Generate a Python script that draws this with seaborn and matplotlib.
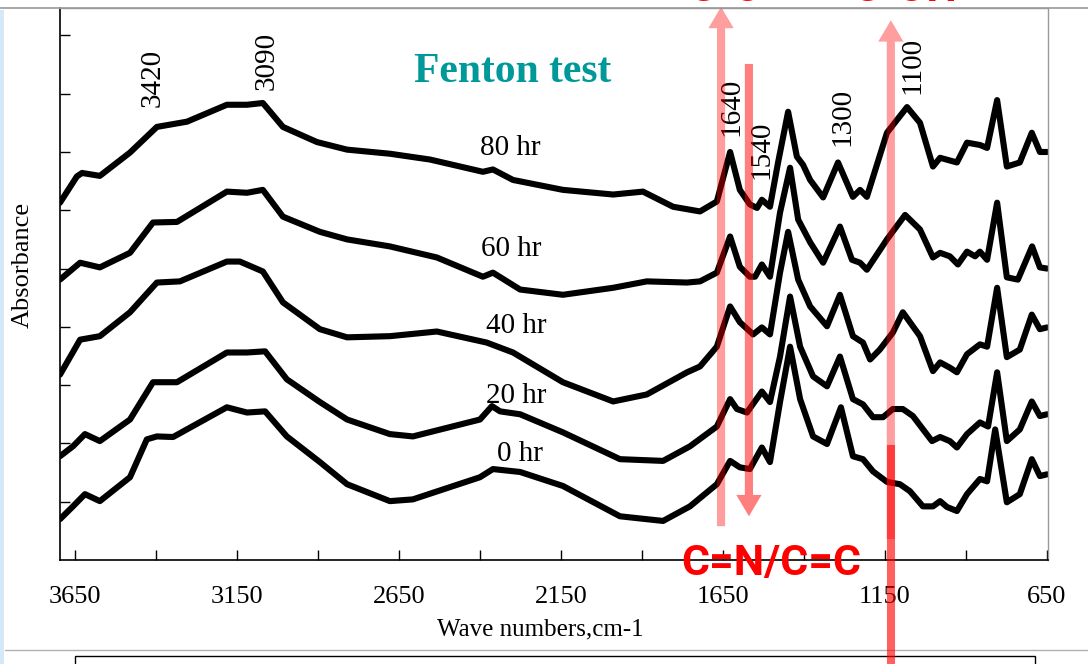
import numpy as np
import pandas as pd
import matplotlib
matplotlib.use("Agg")
import matplotlib.pyplot as plt
import seaborn as sns
from matplotlib.patches import Rectangle
from matplotlib.lines import Line2D

# ---------------- data ----------------
times = ["0 hr", "20 hr", "40 hr", "60 hr", "80 hr"]

wn_80 = [3696, 3644, 3628, 3573, 3480, 3397, 3304, 3181, 3119, 3070, 3008, 2903, 2810, 2678, 2554,
         2391, 2360, 2298, 2144, 1989, 1897, 1804, 1721, 1669, 1628, 1598, 1567, 1545, 1530, 1505,
         1480, 1449, 1422, 1403, 1381, 1341, 1295, 1249, 1227, 1206, 1144, 1082, 1042, 1002, 980,
         928, 897, 857, 835, 804, 774, 734, 697, 672, 650]
abs_80 = [6.13, 6.58, 6.64, 6.59, 6.99, 7.43, 7.52, 7.81, 7.81, 7.84, 7.43, 7.17, 7.04, 6.97, 6.87,
          6.66, 6.70, 6.52, 6.35, 6.27, 6.32, 6.06, 5.98, 6.15, 7.00, 6.35, 6.10, 6.04, 6.18, 6.06,
          6.82, 7.69, 6.92, 6.78, 6.52, 6.22, 6.82, 6.23, 6.35, 6.23, 7.33, 7.77, 7.50, 6.75, 6.90,
          6.82, 7.16, 7.12, 7.07, 7.89, 6.75, 6.82, 7.33, 7.00, 7.00]

wn_60 = [3696, 3634, 3573, 3480, 3409, 3335, 3181, 3119, 3070, 3008, 2894, 2810, 2678, 2533, 2391,
         2360, 2276, 2144, 1989, 1885, 1761, 1721, 1669, 1628, 1598, 1567, 1551, 1530, 1505, 1474,
         1443, 1418, 1381, 1341, 1289, 1252, 1227, 1206, 1144, 1088, 1042, 1002, 980, 950, 925,
         897, 872, 857, 835, 804, 774, 740, 696, 672, 650]
abs_60 = [4.81, 5.10, 5.02, 5.27, 5.79, 5.80, 6.32, 6.30, 6.35, 5.89, 5.63, 5.50, 5.38, 5.19, 4.86,
          4.93, 4.64, 4.55, 4.67, 4.78, 4.76, 4.78, 4.93, 5.55, 5.03, 4.86, 4.86, 5.07, 4.86, 5.96,
          6.73, 5.84, 5.45, 5.10, 5.72, 5.15, 5.10, 4.98, 5.50, 5.92, 5.67, 5.19, 5.27, 5.21, 5.07,
          5.29, 5.21, 5.29, 5.15, 6.13, 4.85, 4.81, 5.38, 5.02, 5.00]

wn_40 = [3696, 3634, 3573, 3480, 3397, 3326, 3181, 3141, 3070, 3008, 2894, 2810, 2678, 2533, 2379,
         2298, 2144, 1989, 1885, 1761, 1721, 1669, 1628, 1598, 1557, 1530, 1505, 1474, 1449, 1418,
         1381, 1329, 1289, 1249, 1218, 1196, 1166, 1126, 1095, 1042, 1002, 980, 950, 928, 897,
         857, 835, 804, 774, 734, 697, 672, 650]
abs_40 = [3.18, 3.78, 3.84, 4.25, 4.76, 4.78, 5.12, 5.12, 4.95, 4.42, 3.96, 3.82, 3.84, 3.92, 3.73,
          3.56, 3.05, 2.72, 2.84, 3.22, 3.32, 3.66, 4.35, 4.08, 3.87, 3.99, 3.87, 4.93, 5.63, 4.81,
          4.35, 4.01, 4.55, 3.84, 3.73, 3.44, 3.61, 3.90, 4.25, 3.84, 3.24, 3.39, 3.30, 3.22, 3.53,
          3.70, 3.66, 4.67, 3.48, 3.61, 4.21, 3.96, 3.99]

wn_20 = [3696, 3656, 3619, 3573, 3480, 3409, 3335, 3181, 3119, 3063, 2996, 2894, 2810, 2678, 2607,
         2400, 2363, 2338, 2276, 2144, 1968, 1835, 1752, 1669, 1628, 1607, 1576, 1530, 1505, 1474,
         1443, 1412, 1372, 1329, 1289, 1249, 1218, 1187, 1156, 1126, 1095, 1064, 1005, 980, 950,
         928, 897, 857, 832, 804, 774, 734, 697, 672, 650]
abs_20 = [1.78, 1.95, 2.16, 2.04, 2.41, 3.05, 3.05, 3.56, 3.56, 3.58, 3.10, 2.71, 2.41, 2.16, 2.12,
          2.41, 2.64, 2.55, 2.50, 2.19, 1.73, 1.70, 1.95, 2.29, 2.76, 2.59, 2.53, 2.89, 2.71, 3.49,
          4.52, 3.66, 3.15, 2.98, 3.49, 2.76, 2.67, 2.45, 2.45, 2.59, 2.59, 2.47, 2.04, 2.11, 2.04,
          1.93, 2.16, 2.36, 2.29, 3.22, 2.04, 2.24, 2.72, 2.47, 2.50]

wn_0 = [3696, 3656, 3619, 3573, 3480, 3428, 3397, 3347, 3181, 3119, 3063, 2996, 2894, 2810, 2678,
        2607, 2400, 2360, 2276, 2144, 1968, 1835, 1752, 1669, 1628, 1598, 1567, 1530, 1505, 1474,
        1443, 1412, 1372, 1329, 1286, 1249, 1218, 1187, 1144, 1104, 1073, 1033, 1002, 980, 959,
        928, 897, 857, 835, 810, 774, 734, 697, 672, 650]
abs_0 = [0.70, 0.92, 1.13, 1.01, 1.42, 2.07, 2.12, 2.11, 2.62, 2.53, 2.55, 2.12, 1.68, 1.30, 1.01,
         1.04, 1.42, 1.56, 1.51, 1.27, 0.75, 0.67, 0.92, 1.30, 1.70, 1.59, 1.56, 1.93, 1.68, 2.71,
         3.66, 2.76, 2.12, 1.99, 2.62, 1.78, 1.73, 1.52, 1.34, 1.30, 1.18, 0.92, 0.92, 1.01, 0.91,
         0.84, 1.13, 1.39, 1.35, 2.24, 0.99, 1.13, 1.73, 1.44, 1.47]

x_ticks = [3650, 3150, 2650, 2150, 1650, 1150, 650]
x_minor = [3400, 2900, 2400, 1900, 1400, 900]
peak_labels = ["3420", "3090", "1640", "1540", "1300", "1100"]

# ---------------- figure ----------------
sns.set_theme(style="white")
plt.rcParams["font.family"] = ["Liberation Serif", "DejaVu Serif"]

fig = plt.figure(figsize=(10.88, 6.64), dpi=100)
ax = fig.add_axes([60 / 1088, 104 / 664, 988 / 1088, 552 / 664])

wns = [wn_0, wn_20, wn_40, wn_60, wn_80]
abss = [abs_0, abs_20, abs_40, abs_60, abs_80]
df = pd.concat([pd.DataFrame({"wn": w, "absorbance": a, "time": t})
                for w, a, t in zip(wns, abss, times)], ignore_index=True)

sns.lineplot(data=df, x="wn", y="absorbance", units="time", estimator=None, sort=False,
             color="black", lw=4.4, ax=ax, legend=False)
for ln in ax.lines:
    ln.set_solid_joinstyle("round")
    ln.set_solid_capstyle("round")

ax.set_xlim(3696, 647)
ax.set_ylim(0, 9.47)
ax.set_xticks(x_ticks)
ax.set_xticklabels([str(v) for v in x_ticks])
ax.set_xticks(x_minor, minor=True)
ax.set_yticks(range(1, 10))
ax.set_yticklabels([])
ax.tick_params(axis="x", which="both", direction="in", length=7, width=1, colors="black",
               labelsize=19, pad=19, bottom=True, top=False)
ax.tick_params(axis="y", which="both", direction="in", length=7, width=1, colors="black",
               left=True, right=False)

for s in ["left", "bottom"]:
    ax.spines[s].set_color("black")
    ax.spines[s].set_linewidth(1.2)
for s in ["top", "right"]:
    ax.spines[s].set_color("#9a9a9a")
    ax.spines[s].set_linewidth(1.0)

ax.set_xlabel("Wave numbers,cm-1", fontsize=18, color="black")
ax.xaxis.set_label_coords(0.486, -0.106)
ax.set_ylabel("Absorbance", fontsize=19, color="black")
ax.yaxis.set_label_coords(-0.027, 0.534)

# time labels
time_pos = [(2276, 1.82), (2289, 2.81), (2289, 4.01), (2304, 5.33), (2307, 7.07)]
for t, (x, y) in zip(times, time_pos):
    ax.text(x, y, t, ha="center", va="center", fontsize=21, color="black")

# peak labels
peak_pos = [(3409, 8.27), (3060, 8.56), (1625, 7.77), (1530, 7.04), (1280, 7.60), (1064, 8.49)]
for lab, (x, y) in zip(peak_labels, peak_pos):
    ax.text(x, y, lab, rotation=90, ha="center", va="center", fontsize=21, color="black")

ax.text(2298, 8.37, "Fenton test", ha="center", va="center", fontsize=30,
        fontweight="bold", color="#009999")

# red arrows
def arrow(x, y_from, y_to, alpha):
    ax.annotate("", xy=(x, y_to), xytext=(x, y_from), xycoords="data",
                annotation_clip=False,
                arrowprops=dict(arrowstyle="simple,head_length=1.1,head_width=1.3,tail_width=0.42",
                                mutation_scale=14, color="red", alpha=alpha, lw=0,
                                shrinkA=0, shrinkB=0),
                zorder=5)

arrow(1656, 0.58, 9.49, 0.38)
arrow(1570, 8.51, 0.75, 0.5)
arrow(1132, 0.36, 9.26, 0.38)

fig.add_artist(Line2D([891 / 1088, 891 / 1088], [1 - 445 / 664, 0], lw=5.8, color="red",
                      alpha=0.62, solid_capstyle="butt", zorder=6))

red_font = ["Roboto", "DejaVu Sans"]
fig.text(771 / 1088, 1 - 564 / 664, "C=N/C=C", ha="center", va="center", fontsize=31,
         fontweight="bold", color="red", family=red_font, zorder=7)
fig.text(725 / 1088, 1 - 1 / 664, "C-O", ha="center", va="baseline", fontsize=31,
         fontweight="bold", color="red", family=red_font)
fig.text(905 / 1088, 1 - 1 / 664, "C-OH", ha="center", va="baseline", fontsize=31,
         fontweight="bold", color="red", family=red_font)

# slide decorations
fig.add_artist(Line2D([0, 1], [1 - 8 / 664, 1 - 8 / 664], lw=1.2, color="#9a9a9a"))
fig.add_artist(Rectangle((0, 0), 4 / 1088, 1 - 10 / 664, transform=fig.transFigure,
                         facecolor="#d4e8f7", edgecolor="none"))
fig.add_artist(Line2D([5 / 1088, 1], [1 - 650 / 664, 1 - 650 / 664], lw=1.0, color="#b0b0b0"))
fig.add_artist(Rectangle((75 / 1088, -0.05), 960 / 1088, 0.05 + 1 - 656 / 664,
                         transform=fig.transFigure, facecolor="none", edgecolor="black", lw=1.0))

fig.savefig("out.png", dpi=100)
